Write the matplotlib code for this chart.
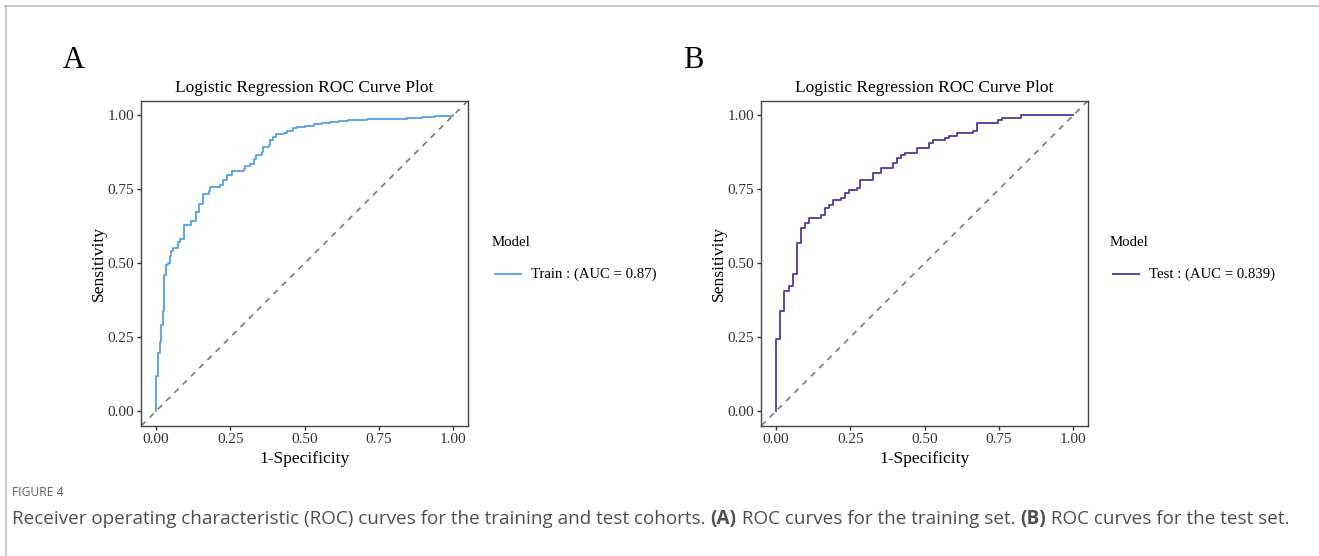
import numpy as np
import matplotlib
matplotlib.use('Agg')
import matplotlib.pyplot as plt
from matplotlib.lines import Line2D

# ROC points (1-specificity, sensitivity)
train_fpr = [0.0, 0.0, 0.0067, 0.0123, 0.0179, 0.0224, 0.028, 0.0325, 0.039,
             0.0459, 0.0504, 0.056, 0.0739, 0.0817, 0.0952, 0.1176, 0.1333,
             0.1433, 0.1579, 0.1769, 0.1825, 0.216, 0.225, 0.2385, 0.255,
             0.2945, 0.30, 0.317, 0.328, 0.337, 0.356, 0.359, 0.3785, 0.384,
             0.395, 0.404, 0.429, 0.44, 0.46, 0.474, 0.502, 0.53, 0.558,
             0.586, 0.614, 0.647, 0.709, 0.843, 0.894, 0.938, 1.0]
train_tpr = [0.0, 0.118, 0.195, 0.234, 0.291, 0.338, 0.459, 0.493, 0.500,
             0.524, 0.541, 0.55, 0.572, 0.583, 0.628, 0.644, 0.673,
             0.699, 0.733, 0.743, 0.758, 0.764, 0.780, 0.80, 0.811,
             0.818, 0.829, 0.837, 0.854, 0.867, 0.876, 0.893, 0.901, 0.916,
             0.927, 0.938, 0.941, 0.946, 0.957, 0.961, 0.966, 0.97, 0.974,
             0.977, 0.982, 0.985, 0.989, 0.991, 0.994, 0.998, 1.0]

test_fpr = [0.0, 0.0, 0.0146, 0.0281, 0.0416, 0.0562, 0.0697, 0.0843, 0.0966,
            0.1112, 0.1517, 0.164, 0.1787, 0.191, 0.219, 0.2303, 0.245,
            0.273, 0.284, 0.326, 0.354, 0.394, 0.407, 0.421, 0.435, 0.475,
            0.515, 0.528, 0.5685, 0.582, 0.61, 0.664, 0.6775, 0.746, 0.7596,
            0.826, 1.0]
test_tpr = [0.0, 0.243, 0.338, 0.405, 0.422, 0.465, 0.569, 0.619, 0.636,
            0.653, 0.662, 0.687, 0.696, 0.713, 0.722, 0.739, 0.747,
            0.756, 0.780, 0.805, 0.822, 0.839, 0.856, 0.865, 0.874, 0.891,
            0.908, 0.918, 0.925, 0.932, 0.941, 0.949, 0.975, 0.983, 0.991,
            1.0, 1.0]

panels = [
    ('A', train_fpr, train_tpr, '#5AA4E6', 'Train : (AUC = 0.87)'),
    ('B', test_fpr, test_tpr, '#5940A0', 'Test : (AUC = 0.839)'),
]
ticks = [0.0, 0.25, 0.5, 0.75, 1.0]
tick_labels = ['0.00', '0.25', '0.50', '0.75', '1.00']

W, H = 1319, 556
fig = plt.figure(figsize=(W / 100, H / 100), dpi=100)
serif = 'Liberation Serif'

# faint page border (top and left)
fig.add_artist(Line2D([5 / W, 1], [1 - 5.5 / H, 1 - 5.5 / H], color='#c4c4c4', lw=1.2))
fig.add_artist(Line2D([6 / W, 6 / W], [0, 1 - 5.5 / H], color='#c4c4c4', lw=1.2))

for i, (letter, fpr, tpr, color, label) in enumerate(panels):
    x0 = 141.3 + i * 620
    ax = fig.add_axes([x0 / W, (H - 425.7) / H, 326.7 / W, 325 / H])
    ax.plot([0, 1], [0, 1], transform=ax.transAxes, color='#7a7a7a',
            lw=1.2, ls=(0, (3.5, 3.5)))
    ax.plot(fpr, tpr, drawstyle='steps-post', color=color, lw=1.35)
    ax.set_xlim(-0.05, 1.05)
    ax.set_ylim(-0.05, 1.05)
    ax.set_xticks(ticks, tick_labels, fontfamily=serif, fontsize=11, color='#333333')
    ax.set_yticks(ticks, tick_labels, fontfamily=serif, fontsize=11, color='#333333')
    ax.tick_params(length=3, width=1, color='#333333', pad=2)
    for s in ax.spines.values():
        s.set_color('#444444')
        s.set_linewidth(1.0)
    ax.set_xlabel('1-Specificity', fontfamily=serif, fontsize=12.6, labelpad=4)
    ax.set_ylabel('Sensitivity', fontfamily=serif, fontsize=12.6, labelpad=0.5)
    ax.set_title('Logistic Regression ROC Curve Plot', fontfamily=serif,
                 fontsize=12.5, pad=6)
    fig.text((63 + i * 620) / W, 1 - 68 / H, letter, fontfamily=serif, fontsize=22)

    # legend on the right
    lx = 492 + i * 618
    fig.text(lx / W, 1 - 243 / H, 'Model', fontfamily=serif, fontsize=10.7,
             va='center')
    fig.add_artist(Line2D([(lx + 3) / W, (lx + 29) / W], [1 - 274 / H, 1 - 274 / H],
                          color=color, lw=1.35))
    fig.text((lx + 39) / W, 1 - 274 / H, label, fontfamily=serif, fontsize=10.6,
             va='center')

# caption
cap = ['Open Sans']
fig.text(12 / W, 1 - 492 / H, 'FIGURE 4', fontfamily=cap, fontsize=8.7,
         color='#5f5f5f', va='center')

pieces = [
    ('Receiver operating characteristic (ROC) curves for the training and test cohorts. ', 'normal'),
    ('(A)', 'bold'),
    (' ROC curves for the training set. ', 'normal'),
    ('(B)', 'bold'),
    (' ROC curves for the test set.', 'normal'),
]
renderer = fig.canvas.get_renderer()
x = 12
for txt, wt in pieces:
    t = fig.text(x / W, 1 - 519 / H, txt, fontfamily=cap, fontsize=13.55,
                 fontweight=wt, color='#4f4f4f', va='center')
    bb = t.get_window_extent(renderer)
    x += bb.width

fig.savefig('out.png', dpi=100)
